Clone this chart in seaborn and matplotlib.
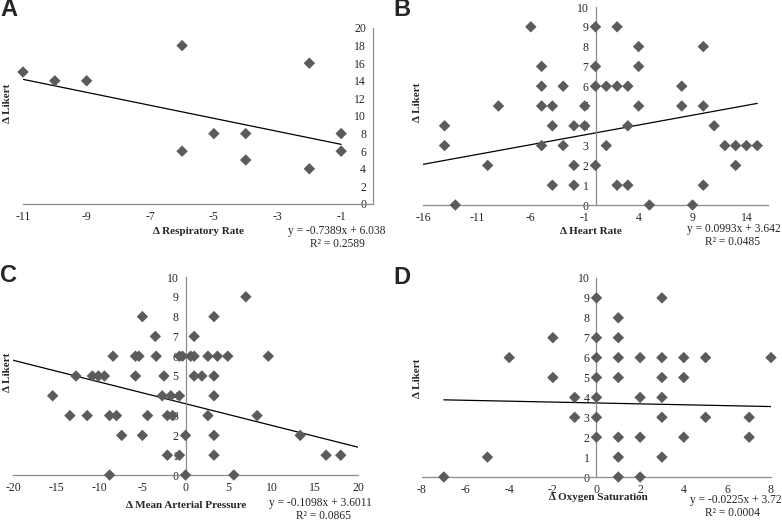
import numpy as np
import pandas as pd
import matplotlib
matplotlib.use('Agg')
import matplotlib.pyplot as plt
import seaborn as sns

# Panel A - respiratory rate
resp_x = [-11, -10, -9, -6, -6, -5, -4, -4, -2, -2, -1, -1]
resp_y = [15, 14, 14, 18, 6, 8, 8, 5, 16, 4, 8, 6]

# Panel B - heart rate
hr_x = [-6, -5, -5, -5, -5, -9, -10, -14, -14, -13, -4, -4, -4, -3, -3, -2, -2, -2,
        -1, -1, 0, 0, 0, 0, 1, 1, 2, 2, 2, 3, 3, 3, 4, 4, 4, 5, 8, 8, 9,
        10, 10, 10, 11, 12, 13, 13, 14, 15]
hr_y = [9, 7, 6, 5, 3, 5, 2, 4, 3, 0, 5, 4, 1, 6, 3, 4, 2, 1,
        5, 4, 9, 7, 6, 2, 6, 3, 9, 6, 1, 6, 4, 1, 8, 7, 5, 0, 6, 5, 0,
        8, 5, 1, 4, 3, 3, 2, 3, 3]

# Panel C - mean arterial pressure
map_x = [7, -5, 3.3, -3.5, 1, -8.4, -5.8, -5.4, -3.4, -0.7, -0.35, 0.6, 1, 2.6, 3.7, 4.9, 9.6,
         -12.7, -10.8, -10.1, -9.4, -5.8, -2.5, 1, 1.9, 3.3,
         -15.4, -2.7, -1.7, -0.7, 3.3,
         -13.4, -11.4, -8.8, -8, -4.4, -2.1, -1.5, 2.6, 8.3,
         -7.4, -5, 0, 3.3, 13.3,
         -2.1, -0.7, 3.3, 16.3, 18,
         -8.8, 0, 5.6]
map_y = [9, 8, 8, 7, 7, 6, 6, 6, 6, 6, 6, 6, 6, 6, 6, 6, 6,
         5, 5, 5, 5, 5, 5, 5, 5, 5,
         4, 4, 4, 4, 4,
         3, 3, 3, 3, 3, 3, 3, 3, 3,
         2, 2, 2, 2, 2,
         1, 1, 1, 1, 1,
         0, 0, 0]

# Panel D - oxygen saturation
o2_x = [0, 3, 1, -2, 0, 1, -4, 0, 1, 2, 3, 4, 5, 8, -2, 0, 1, 3, 4,
        -1, 0, 2, 3, -1, 0, 3, 5, 7, 0, 1, 2, 4, 7, -5, 1, 3, -7, 1, 2]
o2_y = [9, 9, 8, 7, 7, 7, 6, 6, 6, 6, 6, 6, 6, 6, 5, 5, 5, 5, 5,
        4, 4, 4, 4, 3, 3, 3, 3, 3, 2, 2, 2, 2, 2, 1, 1, 1, 0, 0, 0]

# trendlines (slope, intercept, x start, x end) and labels
slopes = [-0.7389, 0.0993, -0.1098, -0.0225]
intercepts = [6.038, 3.642, 3.6011, 3.72]
trend_start = [-11, -16, -20, -7]
trend_end = [-1, 15, 20, 8]
eq_labels = ['y = -0.7389x + 6.038', 'y = 0.0993x + 3.642',
             'y = -0.1098x + 3.6011', 'y = -0.0225x + 3.72']
r2_labels = ['R² = 0.2589', 'R² = 0.0485', 'R² = 0.0865', 'R² = 0.0004']
x_titles = ['Δ Respiratory Rate', 'Δ Heart Rate', 'Δ Mean Arterial Pressure', 'Δ Oxygen Saturation']
panel_letters = ['A', 'B', 'C', 'D']

sns.set_style('white')
plt.rcParams['font.family'] = ['Liberation Serif', 'DejaVu Serif']
plt.rcParams['axes.unicode_minus'] = False

W, H = 782, 521
fig = plt.figure(figsize=(W / 100, H / 100), dpi=100)

def px_axes(left, right, top, bottom):
    return fig.add_axes([left / W, 1 - bottom / H, (right - left) / W, (bottom - top) / H])

axes = [px_axes(23, 373, 28, 204), px_axes(423, 768, 7, 205),
        px_axes(13, 358, 277, 475), px_axes(422, 771, 278, 477)]

xs = [resp_x, hr_x, map_x, o2_x]
ys = [resp_y, hr_y, map_y, o2_y]
xlims = [(-11, 0), (-16, 16), (-20, 20), (-8, 8)]
xticks = [np.arange(-11, 0, 2), np.arange(-16, 16, 5), np.arange(-20, 21, 5), np.arange(-8, 9, 2)]
ylims = [(0, 20), (0, 10), (0, 10), (0, 10)]
yticks = [np.arange(0, 21, 2), np.arange(0, 11, 1), np.arange(0, 11, 1), np.arange(0, 11, 1)]

axis_col = '#8c8c8c'
mark_col = '#5b5b5b'

for i, ax in enumerate(axes):
    df = pd.DataFrame({'x': xs[i], 'y': ys[i]})
    sns.scatterplot(data=df, x='x', y='y', ax=ax, marker='D', color=mark_col,
                    s=34, edgecolor='none', clip_on=False, zorder=3)
    tx = np.array([trend_start[i], trend_end[i]])
    ax.plot(tx, slopes[i] * tx + intercepts[i], color='black', lw=0.9, zorder=2)

    ax.set_xlim(*xlims[i])
    ax.set_ylim(*ylims[i])
    ax.set_xticks(xticks[i])
    ax.set_yticks(yticks[i])
    ax.set_xlabel('')
    ax.set_ylabel('')
    for s in ['top', 'right']:
        ax.spines[s].set_visible(False)
    ax.spines['left'].set_position(('data', 0))
    ax.spines['bottom'].set_position(('data', 0))
    for s in ['left', 'bottom']:
        ax.spines[s].set_color(axis_col)
        ax.spines[s].set_linewidth(0.9)
    ax.tick_params(axis='both', direction='out', length=3, width=0.8, color=axis_col,
                   labelsize=8.5, pad=2)
    ax.patch.set_alpha(0)

# axis titles, equations and panel letters (pixel positions)
xt_pos = [(198, 232), (591, 232), (186, 505), (598, 497)]
eq_pos = [(386, 231), (781, 229), (372, 503), (781, 500)]
lik_pos = [(7, 103), (418, 102), (7, 372), (417, 378)]
let_pos = [(0, 10), (393, 10), (0, 276), (393, 277)]

for i in range(4):
    fig.text(xt_pos[i][0] / W, 1 - xt_pos[i][1] / H, x_titles[i], ha='center', va='center',
             fontsize=8, fontweight='bold')
    fig.text(eq_pos[i][0] / W, 1 - eq_pos[i][1] / H, eq_labels[i], ha='right', va='center',
             fontsize=8.3)
    fig.text((eq_pos[i][0] - 21) / W, 1 - (eq_pos[i][1] + 13) / H, r2_labels[i], ha='right',
             va='center', fontsize=8.3)
    fig.text(lik_pos[i][0] / W, 1 - lik_pos[i][1] / H, 'Δ Likert', ha='center', va='center',
             rotation=90, fontsize=8, fontweight='bold')
    fig.text(let_pos[i][0] / W, 1 - let_pos[i][1] / H, panel_letters[i], ha='left', va='center',
             fontsize=17, fontweight='bold', family=['Liberation Sans', 'DejaVu Sans'])

fig.savefig('out.png', dpi=100, facecolor='white')
